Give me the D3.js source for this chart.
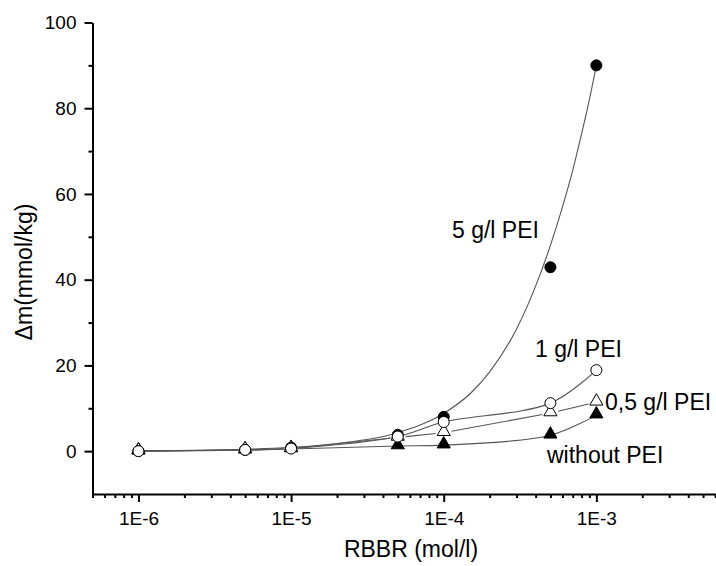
<!DOCTYPE html>
<html>
<head>
<meta charset="utf-8">
<script src="https://cdn.jsdelivr.net/npm/d3@7"></script>
<style>
  body { margin: 0; background: #fff; }
  svg text { font-family: "Liberation Sans", Arial, sans-serif; fill: #000; }
</style>
</head>
<body>
<div class="chart"></div>
<script>
// concentrations (mol/l)
var conc = [1e-6, 5e-6, 1e-5, 5e-5, 1e-4, 5e-4, 1e-3];

// uptake values
var pei5 = [0, 0.3, 0.8, 3.8, 8.0, 42.9, 90];
var pei1 = [0, 0.3, 0.6, 3.4, 6.8, 11.2, 18.9];
var pei05 = [0, 0.3, 0.6, 3.2, 4.3, 8.9, 11.4];
var noPei = [0, 0.2, 0.5, 1.2, 1.4, 3.7, 8.4];

// fitted curve for 5 g/l PEI
var fitConc = [1e-6, 5e-6, 1e-5, 2e-5, 5e-5, 1e-4, 1.5e-4, 2e-4, 3e-4, 4e-4, 5e-4, 6e-4, 7e-4, 8e-4, 9e-4, 1e-3];
var fitPei5 = [0.1, 0.45, 0.9, 1.8, 4.3, 8.8, 13.5, 18.5, 28.5, 38.5, 48, 57, 65.5, 74, 82, 90];

var xMajor = [1e-6, 1e-5, 1e-4, 1e-3];
var xMajorLabels = ["1E-6", "1E-5", "1E-4", "1E-3"];
var yMajor = [0, 20, 40, 60, 80, 100];
var yMinor = [10, 30, 50, 70, 90];

var svgWidth = 716;
var svgHeight = 566;

var svg = d3.select(".chart")
  .append("svg")
  .attr("width", svgWidth)
  .attr("height", svgHeight);

var xScale = d3.scaleLog()
  .domain([5e-7, 1e-2])
  .range([92.5, 749]);

var yScale = d3.scaleLinear()
  .domain([-10, 100])
  .range([494, 22.5]);

// minor ticks on the log axis: 2..9 of each decade
var xMinor = [];
[-7, -6, -5, -4, -3].forEach(function(e) {
  for (var k = 2; k <= 9; k++) {
    var v = k * Math.pow(10, e);
    if (v >= 5e-7 && v < 7e-3) xMinor.push(v);
  }
});

// x axis
var xAxis = svg.append("g")
  .attr("transform", "translate(0,494)")
  .call(d3.axisBottom(xScale)
    .tickValues(xMajor)
    .tickFormat(function(d, i) { return xMajorLabels[i]; })
    .tickSize(8)
    .tickSizeOuter(0)
    .tickPadding(10));
xAxis.select(".domain").attr("stroke-width", 2);
xAxis.selectAll(".tick line").attr("stroke-width", 2);
xAxis.selectAll("text").style("font-size", "19px");

svg.append("g")
  .attr("transform", "translate(0,494)")
  .call(d3.axisBottom(xScale).tickValues(xMinor).tickSize(4).tickFormat(""))
  .call(function(g) { g.select(".domain").remove(); })
  .selectAll(".tick line").attr("stroke-width", 2);

// y axis
var yAxis = svg.append("g")
  .attr("transform", "translate(92.5,0)")
  .call(d3.axisLeft(yScale)
    .tickValues(yMajor)
    .tickSize(8)
    .tickSizeOuter(0)
    .tickPadding(8));
yAxis.select(".domain").attr("stroke-width", 2);
yAxis.selectAll(".tick line").attr("stroke-width", 2);
yAxis.selectAll("text").style("font-size", "19px");

svg.append("g")
  .attr("transform", "translate(92.5,0)")
  .call(d3.axisLeft(yScale).tickValues(yMinor).tickSize(4).tickFormat(""))
  .call(function(g) { g.select(".domain").remove(); })
  .selectAll(".tick line").attr("stroke-width", 2);

// axis titles
svg.append("text")
  .attr("x", 411)
  .attr("y", 557)
  .attr("text-anchor", "middle")
  .style("font-size", "23px")
  .text("RBBR (mol/l)");

svg.append("text")
  .attr("transform", "translate(32,272) rotate(-90)")
  .attr("text-anchor", "middle")
  .style("font-size", "23px")
  .text("\u0394m(mmol/kg)");

// lines
var lineColor = "#555";

var fitLine = d3.line()
  .x(function(d) { return xScale(d[0]); })
  .y(function(d) { return yScale(d[1]); })
  .curve(d3.curveMonotoneX);

var smooth = d3.line()
  .x(function(d) { return xScale(d[0]); })
  .y(function(d) { return yScale(d[1]); })
  .curve(d3.curveCatmullRom.alpha(0.5));

svg.append("path")
  .attr("d", fitLine(d3.zip(fitConc, fitPei5)))
  .attr("fill", "none")
  .attr("stroke", lineColor)
  .attr("stroke-width", 1.1);

svg.append("path")
  .attr("d", smooth(d3.zip(conc, pei1)))
  .attr("fill", "none")
  .attr("stroke", lineColor)
  .attr("stroke-width", 1.1);

svg.append("path")
  .attr("d", smooth(d3.zip(conc, noPei)))
  .attr("fill", "none")
  .attr("stroke", lineColor)
  .attr("stroke-width", 1.1);

// 0,5 g/l PEI: straight segments that stop short of the symbols
var gap = 8;
var pts05 = conc.map(function(c, i) { return [xScale(c), yScale(pei05[i])]; });
for (var i = 0; i < pts05.length - 1; i++) {
  var a = pts05[i], b = pts05[i + 1];
  var dx = b[0] - a[0], dy = b[1] - a[1];
  var len = Math.sqrt(dx * dx + dy * dy);
  if (len < 2 * gap + 2) continue;
  var ux = dx / len, uy = dy / len;
  var g0 = i < 3 ? 0 : gap;
  svg.append("line")
    .attr("x1", a[0] + ux * g0)
    .attr("y1", a[1] + uy * g0)
    .attr("x2", b[0] - ux * gap)
    .attr("y2", b[1] - uy * gap)
    .attr("stroke", lineColor)
    .attr("stroke-width", 1.1);
}

// symbols
var triangle = d3.symbol().type(d3.symbolTriangle).size(75);

function drawTriangles(values, fill) {
  svg.append("g").selectAll("path")
    .data(d3.zip(conc, values))
    .enter()
    .append("path")
    .attr("d", triangle)
    .attr("transform", function(d) {
      return "translate(" + xScale(d[0]) + "," + (yScale(d[1]) - 1) + ")";
    })
    .attr("fill", fill)
    .attr("stroke", "#000")
    .attr("stroke-width", 1);
}

function drawCircles(values, fill) {
  svg.append("g").selectAll("circle")
    .data(d3.zip(conc, values))
    .enter()
    .append("circle")
    .attr("cx", function(d) { return xScale(d[0]); })
    .attr("cy", function(d) { return yScale(d[1]); })
    .attr("r", 5.5)
    .attr("fill", fill)
    .attr("stroke", "#000")
    .attr("stroke-width", 1);
}

drawTriangles(noPei, "#000");
drawTriangles(pei05, "#fff");
drawCircles(pei5, "#000");
drawCircles(pei1, "#fff");

// series labels
var labels = [
  { text: "5 g/l PEI", x: 452, y: 238 },
  { text: "1 g/l PEI", x: 535, y: 357 },
  { text: "0,5 g/l PEI", x: 605, y: 410 },
  { text: "without PEI", x: 547, y: 463 }
];
svg.selectAll(".series-label")
  .data(labels)
  .enter()
  .append("text")
  .attr("class", "series-label")
  .attr("x", function(d) { return d.x; })
  .attr("y", function(d) { return d.y; })
  .style("font-size", "23px")
  .text(function(d) { return d.text; });
</script>
</body>
</html>
